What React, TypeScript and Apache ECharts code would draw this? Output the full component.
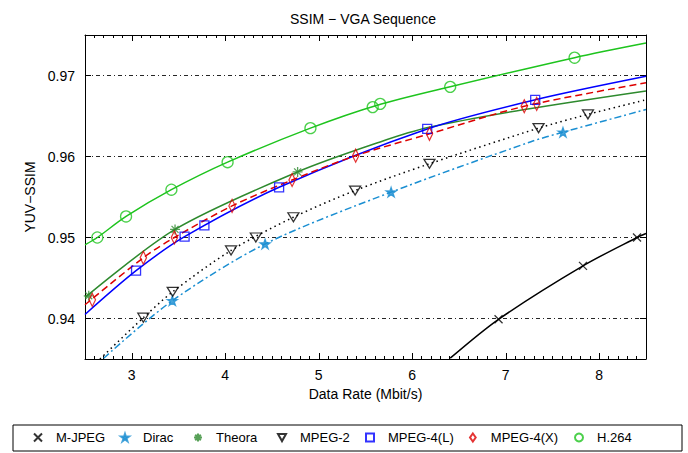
import React, { useEffect, useRef } from "react";
import * as echarts from "echarts";

// Axis ranges and tick labels
const xRange = [2.5, 8.5];
const yRange = [0.935, 0.975];

// Codec names (legend order)
const codecs = ["M-JPEG", "Dirac", "Theora", "MPEG-2", "MPEG-4(L)", "MPEG-4(X)", "H.264"];

const mjpegPts = [[6.923, 0.9399], [7.826, 0.9465], [8.404, 0.95]];
const diracPts = [[3.434, 0.9422], [4.426, 0.9492], [5.774, 0.9556], [7.612, 0.963]];
const theoraPts = [[2.54, 0.9428], [3.463, 0.951], [4.774, 0.9581]];
const mpeg2Pts = [[3.124, 0.9401], [3.438, 0.9433], [4.062, 0.9484], [4.327, 0.95], [4.729, 0.9525], [5.389, 0.9558], [6.184, 0.9591], [7.351, 0.9635], [7.879, 0.9652]];
const mpeg4LPts = [[3.046, 0.9459], [3.565, 0.9501], [3.777, 0.9515], [4.576, 0.9562], [6.16, 0.9634], [7.315, 0.967]];
const mpeg4XPts = [[2.578, 0.9423], [3.124, 0.9475], [3.456, 0.95], [4.073, 0.9539], [4.715, 0.9571], [5.395, 0.9601], [6.184, 0.9628], [7.198, 0.9662], [7.331, 0.9665]];
const h264Pts = [[2.632, 0.95], [2.939, 0.9526], [3.424, 0.9559], [4.025, 0.9593], [4.911, 0.9635], [5.577, 0.9661], [5.657, 0.9665], [6.406, 0.9686], [7.736, 0.9722]];

// Fitted curves
const mjpegFit = [[6.406, 0.9351], [6.923, 0.9399], [7.826, 0.9465], [8.404, 0.95], [8.5, 0.9505]];
const diracFit = [[2.7, 0.9351], [3.434, 0.9422], [4.426, 0.9492], [5.774, 0.9556], [7.262, 0.9618], [7.612, 0.963], [8.5, 0.9658]];
const theoraFit = [[2.5, 0.9426], [3.463, 0.951], [4.774, 0.9581], [5.657, 0.9618], [6.18, 0.9636], [7.2, 0.9658], [8.5, 0.9681]];
const mpeg2Fit = [[2.66, 0.935], [3.124, 0.9401], [3.438, 0.9433], [4.062, 0.9484], [4.729, 0.9525], [5.389, 0.9558], [6.184, 0.9591], [7.351, 0.9635], [7.879, 0.9652], [8.5, 0.967]];
const mpeg4LFit = [[2.5, 0.9405], [3.046, 0.9459], [3.565, 0.9501], [4.576, 0.9562], [6.16, 0.9634], [7.315, 0.967], [8.5, 0.9699]];
const mpeg4XFit = [[2.5, 0.9417], [3.124, 0.9475], [3.456, 0.95], [4.073, 0.9539], [4.715, 0.9571], [5.395, 0.9601], [6.184, 0.9628], [7.198, 0.9662], [8.5, 0.9691]];
const h264Fit = [[2.5, 0.9491], [2.632, 0.95], [2.939, 0.9526], [3.424, 0.9559], [4.025, 0.9593], [4.911, 0.9635], [5.617, 0.9663], [6.406, 0.9686], [7.736, 0.9722], [8.5, 0.974]];

const pointsList = [mjpegPts, diracPts, theoraPts, mpeg2Pts, mpeg4LPts, mpeg4XPts, h264Pts];
const fitList = [mjpegFit, diracFit, theoraFit, mpeg2Fit, mpeg4LFit, mpeg4XFit, h264Fit];

const colors = ["#000000", "#1b8fd2", "#2e8a2e", "#000000", "#0000ff", "#dd0000", "#1ec41e"];
const dashes: any[] = ["solid", [7, 3, 2, 3], "solid", [1.5, 3.5], "solid", [7, 4], "solid"];
const symbols = [
  "path://M0,0L10,10M10,0L0,10",
  "path://M5,0L6.2,3.6L10,3.6L6.9,5.9L8.1,9.5L5,7.3L1.9,9.5L3.1,5.9L0,3.6L3.8,3.6Z",
  "path://M5,0L5,10M0,5L10,5M1.5,1.5L8.5,8.5M8.5,1.5L1.5,8.5",
  "path://M0,0L10,0L5,9Z",
  "rect",
  "path://M5,0L10,7L5,14L0,7Z",
  "circle",
];
const symbolSizes: any[] = [8, 10, 10, [11, 10], 9, [9, 13], 11];
const legendIconCenters = [37, 124, 197, 281, 369, 473, 578];

export default function App() {
  const ref = useRef<HTMLDivElement>(null);
  useEffect(() => {
    if (!ref.current) return;
    const chart = echarts.init(ref.current, undefined, { renderer: "svg" });
    const font = "Liberation Sans, Arial, sans-serif";
    const series: any[] = [];
    codecs.forEach((name, i) => {
      series.push({
        name: name + " fit",
        type: "line",
        data: fitList[i],
        smooth: 0.3,
        symbol: "none",
        showSymbol: false,
        silent: true,
        clip: true,
        lineStyle: { color: colors[i], width: 1.5, type: dashes[i] },
        z: 2,
      });
      series.push({
        name,
        type: "scatter",
        data: pointsList[i],
        symbol: symbols[i],
        symbolSize: symbolSizes[i],
        symbolKeepAspect: true,
        itemStyle: {
          color: i === 1 ? colors[i] : "rgba(0,0,0,0)",
          borderColor: colors[i],
          borderWidth: 1.3,
        },
        z: 3,
      });
    });
    const tickAxisX = (pos: string, labels: boolean) => ({
      type: "value",
      position: pos,
      min: xRange[0],
      max: xRange[1],
      splitNumber: 6,
      axisLine: { show: true, onZero: false, lineStyle: { color: "#000", width: 1 } },
      axisTick: { show: true, inside: true, length: 6, lineStyle: { color: "#000" } },
      minorTick: { show: true, splitNumber: 10, length: 3, lineStyle: { color: "#000" } },
      splitLine: { show: false },
      axisLabel: {
        show: labels,
        showMinLabel: false,
        showMaxLabel: false,
        color: "#000",
        fontSize: 14,
        fontFamily: font,
        margin: 9,
      },
    });
    const tickAxisY = (pos: string, labels: boolean, grid: boolean) => ({
      type: "value",
      position: pos,
      min: yRange[0],
      max: yRange[1],
      splitNumber: 4,
      axisLine: { show: true, onZero: false, lineStyle: { color: "#000", width: 1 } },
      axisTick: { show: true, inside: true, length: 6, lineStyle: { color: "#000" } },
      splitLine: { show: grid, lineStyle: { color: "#000", width: 1, type: [4, 3, 1, 3], opacity: 0.85 } },
      axisLabel: {
        show: labels,
        showMinLabel: false,
        showMaxLabel: false,
        color: "#000",
        fontSize: 14,
        fontFamily: font,
        margin: 10,
        formatter: (v: number) => v.toFixed(2),
      },
    });
    const xMain: any = tickAxisX("bottom", true);
    xMain.name = "Data Rate (Mbit/s)";
    xMain.nameLocation = "middle";
    xMain.nameGap = 27;
    xMain.nameTextStyle = { color: "#000", fontSize: 14, fontFamily: font };
    const yMain: any = tickAxisY("left", true, true);
    yMain.name = "YUV\u2212SSIM";
    yMain.nameLocation = "middle";
    yMain.nameGap = 38;
    yMain.nameTextStyle = { color: "#000", fontSize: 14, fontFamily: font };

    chart.setOption({
      animation: false,
      backgroundColor: "#fff",
      title: {
        text: "SSIM \u2212 VGA Sequence",
        left: 285,
        top: 7,
        textStyle: { color: "#000", fontSize: 14, fontWeight: "normal", fontFamily: font },
      },
      grid: { left: 85, right: 42, top: 35, bottom: 94, containLabel: false },
      xAxis: [xMain, tickAxisX("top", false)],
      yAxis: [yMain, tickAxisY("right", false, false)],
      legend: codecs.map((name, i) => ({
        data: [name],
        left: legendIconCenters[i] - 4,
        top: 431,
        padding: 0,
        itemWidth: 8,
        itemHeight: 8,
        selectedMode: false,
        textStyle: { color: "#000", fontSize: 13, fontFamily: font, padding: [0, 0, 0, 9] },
      })),
      graphic: [
        {
          type: "rect",
          shape: { x: 13, y: 425, width: 669, height: 26 },
          style: { fill: "none", stroke: "#000", lineWidth: 1 },
          silent: true,
        },
      ],
      series,
    });
    return () => chart.dispose();
  }, []);
  return (
    <div
      ref={ref}
      style={{ position: "fixed", left: 0, top: 0, width: 688, height: 453, background: "#fff" }}
    />
  );
}
